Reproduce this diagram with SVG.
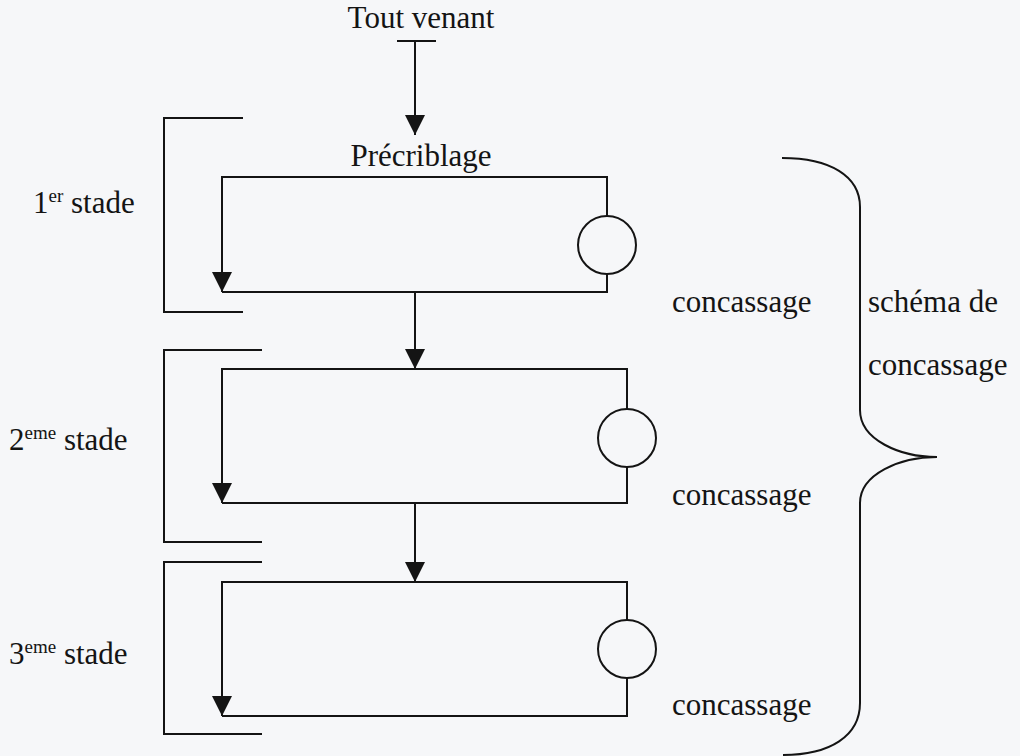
<svg xmlns="http://www.w3.org/2000/svg" width="1020" height="756" viewBox="0 0 1020 756">
  <style>
    .ln { fill: none; stroke: #141414; stroke-width: 2; }
    .txt { font-family: "Liberation Serif", "Times New Roman", serif; font-size: 31px; fill: #141414; }
    .sup { font-size: 19px; }
  </style>
  <defs>
    <marker id="arrow" viewBox="0 0 20 20" refX="20" refY="10" markerWidth="20" markerHeight="20" markerUnits="userSpaceOnUse" orient="auto">
      <path d="M0,0 L20,10 L0,20 Z" fill="#141414"/>
    </marker>
  </defs>
  <rect width="1020" height="756" fill="#f6f7f9"/>

  <!-- feed -->
  <g id="feed">
    <text class="txt" x="421" y="28" text-anchor="middle">Tout venant</text>
  </g>

  <!-- stage brackets and labels -->
  <g id="stage1-label">
    <path class="ln" d="M243,118 H164 V312 H243"/>
    <text class="txt" x="33" y="213">1<tspan class="sup" dy="-11">er</tspan><tspan dy="11"> stade</tspan></text>
  </g>
  <g id="stage2-label">
    <path class="ln" d="M262,350 H164 V542 H262"/>
    <text class="txt" x="9" y="450">2<tspan class="sup" dy="-11">eme</tspan><tspan dy="11"> stade</tspan></text>
  </g>
  <g id="stage3-label">
    <path class="ln" d="M262,562 H164 V734 H262"/>
    <text class="txt" x="9" y="664">3<tspan class="sup" dy="-11">eme</tspan><tspan dy="11"> stade</tspan></text>
  </g>

  <!-- stage 1: prescreening loop with crusher -->
  <g id="stage1">
    <text class="txt" x="421" y="166" text-anchor="middle">Précriblage</text>
    <path class="ln" d="M607,216 V177 H222 V292" marker-end="url(#arrow)"/>
    <path class="ln" d="M222,292 H607 V274"/>
    <circle class="ln" cx="607" cy="245" r="29"/>
    <text class="txt" x="672" y="312">concassage</text>
  </g>

  <!-- stage 2 -->
  <g id="stage2">
    <path class="ln" d="M627,409 V369 H222 V503" marker-end="url(#arrow)"/>
    <path class="ln" d="M222,503 H627 V467"/>
    <circle class="ln" cx="627" cy="438" r="29"/>
    <text class="txt" x="672" y="505">concassage</text>
  </g>

  <!-- stage 3 -->
  <g id="stage3">
    <path class="ln" d="M627,620 V582 H222 V716" marker-end="url(#arrow)"/>
    <path class="ln" d="M222,716 H627 V678"/>
    <circle class="ln" cx="627" cy="649" r="29"/>
    <text class="txt" x="672" y="715">concassage</text>
  </g>

  <!-- overall brace -->
  <g id="scheme">
    <path class="ln" d="M782,158 C830,158 860,176 860,207 L860,410 C860,440 900,457 937,457 C900,457 860,474 860,503 L860,703 C860,736 830,755 783,755"/>
    <text class="txt" x="868" y="312">schéma de</text>
    <text class="txt" x="868" y="375">concassage</text>
  </g>

  <!-- flow connectors -->
  <g id="connectors">
    <path class="ln" d="M397,41 H436"/>
    <path class="ln" d="M415,41 V135" marker-end="url(#arrow)"/>
    <path class="ln" d="M415,292 V369" marker-end="url(#arrow)"/>
    <path class="ln" d="M415,503 V582" marker-end="url(#arrow)"/>
  </g>
</svg>
